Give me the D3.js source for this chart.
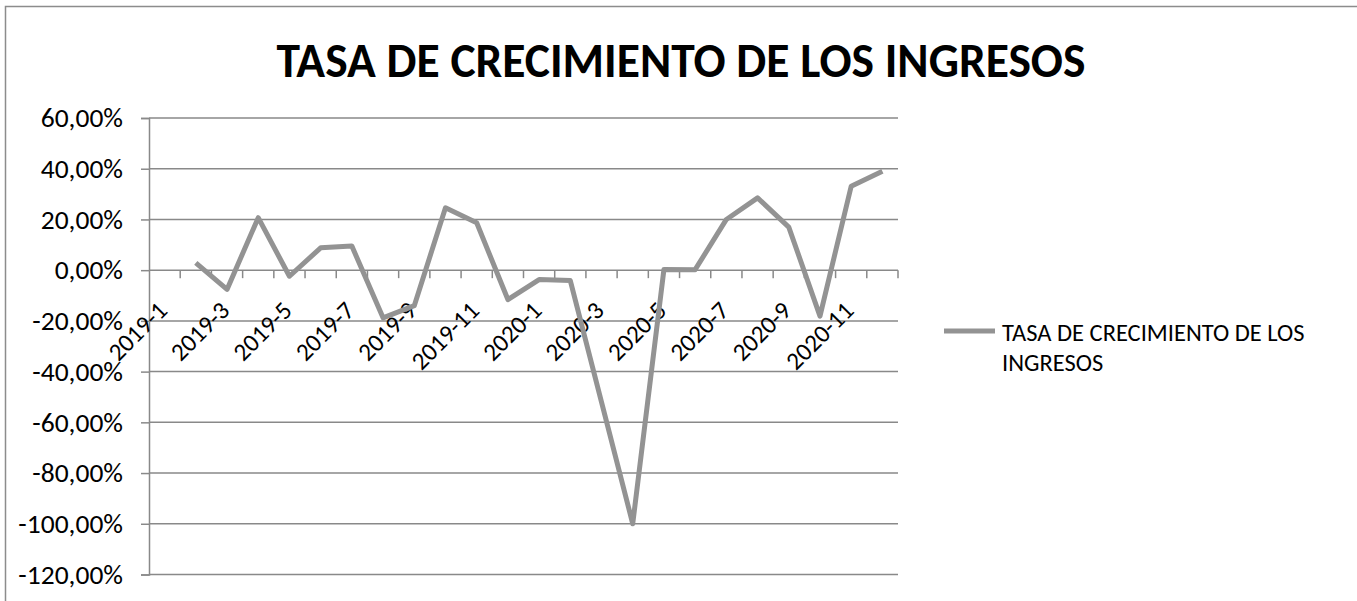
<!DOCTYPE html>
<html>
<head>
<meta charset="utf-8">
<script src="https://cdn.jsdelivr.net/npm/d3@7"></script>
<style>
  body { margin: 0; background: #fff; }
  svg { display: block; font-family: Carlito, Calibri, Lato, sans-serif; }
</style>
</head>
<body>
<svg width="1357" height="601"></svg>
<script>
var categories = ["2019-1", "2019-2", "2019-3", "2019-4", "2019-5", "2019-6",
  "2019-7", "2019-8", "2019-9", "2019-10", "2019-11", "2019-12",
  "2020-1", "2020-2", "2020-3", "2020-4", "2020-5", "2020-6",
  "2020-7", "2020-8", "2020-9", "2020-10", "2020-11", "2020-12"];

// growth rate in %, first month has no value
var values = [null, 2.9, -7.6, 20.7, -2.4, 8.8, 9.5, -18.8, -14, 24.6, 18.7, -11.6,
  -3.7, -4.1, -52, -100, 0.3, 0.2, 20, 28.5, 17, -18.1, 33.1, 39];

var yTicks = [60, 40, 20, 0, -20, -40, -60, -80, -100, -120];

var title = "TASA DE CRECIMIENTO DE LOS INGRESOS";
var legendLines = ["TASA DE CRECIMIENTO DE LOS", "INGRESOS"];

var gridColor = "#898989",
    lineColor = "#939393";

var svg = d3.select("svg");

// chart frame (runs off the right/bottom of the picture)
svg.append("rect")
    .attr("x", 5.5).attr("y", 6.5)
    .attr("width", 1500).attr("height", 800)
    .attr("fill", "none")
    .attr("stroke", "#8c8c8c")
    .attr("stroke-width", 1.5);

var x = d3.scaleBand()
    .domain(categories)
    .range([149, 898])
    .paddingInner(0).paddingOuter(0);

var y = d3.scaleLinear()
    .domain([-120, 60])
    .range([574.5, 118]);

svg.append("text")
    .attr("x", 681)
    .attr("y", 77)
    .attr("text-anchor", "middle")
    .attr("font-weight", "bold")
    .attr("font-size", 47.5)
    .text(title);

// gridlines + y axis
var yAxis = d3.axisLeft(y)
    .tickValues(yTicks)
    .tickSize(8)
    .tickFormat(function(d) { return d.toFixed(2).replace(".", ",") + "%"; });

var gy = svg.append("g")
    .attr("transform", "translate(149,0)")
    .call(yAxis);
gy.select(".domain").attr("stroke", gridColor).attr("stroke-width", 1.5);
gy.selectAll(".tick line").attr("stroke", gridColor).attr("stroke-width", 1.5);
gy.selectAll(".tick text")
    .attr("x", -26)
    .attr("fill", "#000")
    .attr("font-size", 27.5)
    .attr("font-family", "Carlito, Calibri, Lato, sans-serif");

svg.append("g")
    .selectAll("line")
    .data(yTicks)
    .enter().append("line")
    .attr("x1", 149).attr("x2", 898)
    .attr("y1", function(d) { return y(d); })
    .attr("y2", function(d) { return y(d); })
    .attr("stroke", gridColor)
    .attr("stroke-width", 1.5);

// x axis at zero, ticks on category boundaries
var bounds = categories.map(function(c) { return x(c); }).concat([x.range()[1]]);
svg.append("g")
    .selectAll("line")
    .data(bounds.slice(1))
    .enter().append("line")
    .attr("x1", function(d) { return d; })
    .attr("x2", function(d) { return d; })
    .attr("y1", y(0))
    .attr("y2", y(0) + 8)
    .attr("stroke", gridColor)
    .attr("stroke-width", 1.5);

svg.append("g")
    .selectAll("text")
    .data(categories.filter(function(c, i) { return i % 2 === 0; }))
    .enter().append("text")
    .attr("text-anchor", "end")
    .attr("font-size", 25)
    .attr("transform", function(d) {
      return "translate(" + (x(d) + x.bandwidth() / 2 + 4) + "," + 312 + ") rotate(-45)";
    })
    .text(function(d) { return d; });

// the series
var line = d3.line()
    .defined(function(d) { return d.v !== null; })
    .x(function(d) { return x(d.c) + x.bandwidth() / 2; })
    .y(function(d) { return y(d.v); });

svg.append("path")
    .datum(categories.map(function(c, i) { return { c: c, v: values[i] }; }))
    .attr("d", line)
    .attr("fill", "none")
    .attr("stroke", lineColor)
    .attr("stroke-width", 5)
    .attr("stroke-linejoin", "round");

// legend
svg.append("line")
    .attr("x1", 944).attr("x2", 995)
    .attr("y1", 331).attr("y2", 331)
    .attr("stroke", lineColor)
    .attr("stroke-width", 5);

svg.append("g")
    .selectAll("text")
    .data(legendLines)
    .enter().append("text")
    .attr("x", 1002)
    .attr("y", function(d, i) { return 341 + i * 29.5; })
    .attr("font-size", 24.5)
    .text(function(d) { return d; });
</script>
</body>
</html>
